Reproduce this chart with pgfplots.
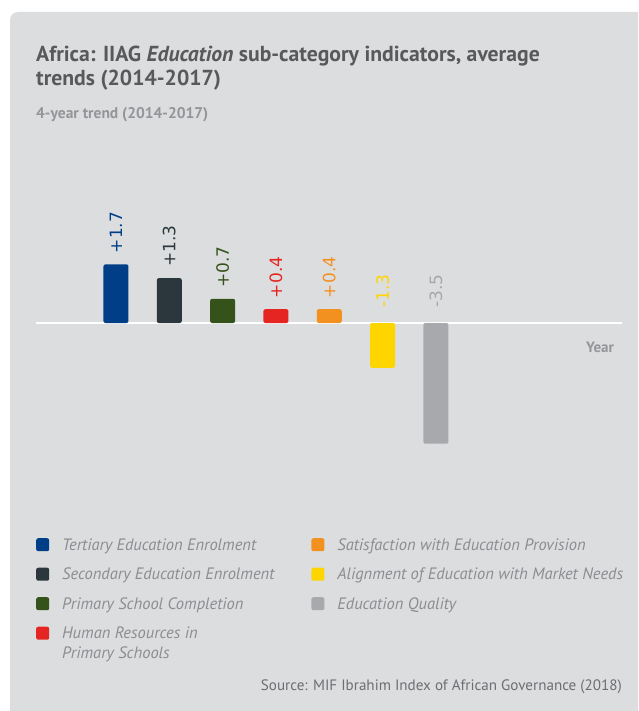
\documentclass[border=0pt]{standalone}
\usepackage{fontspec}
\setmainfont{PT Sans}
\newfontfamily\dejavu{DejaVu Sans}
\usepackage{pgfplots}
\pgfplotsset{compat=1.18}
\definecolor{bg}{HTML}{DCDDDF}
\definecolor{c1}{HTML}{003F87}
\definecolor{c2}{HTML}{2B363D}
\definecolor{c3}{HTML}{35521A}
\definecolor{c4}{HTML}{E52521}
\definecolor{c5}{HTML}{F39120}
\definecolor{c6}{HTML}{FFD500}
\definecolor{c7}{HTML}{A8A9AD}
\definecolor{ttl}{HTML}{58595B}
\definecolor{sub}{HTML}{939598}
\definecolor{leg}{HTML}{8C8D90}
\definecolor{src}{HTML}{6D6E71}
\pgfplotsset{
  bb/.style={fill=#1, draw=none, bar shift=0pt, rounded corners=2pt},
  lab/.style={point meta=explicit symbolic, nodes near coords,
    nodes near coords align={anchor=west},
    every node near coord/.append style={text=#1, rotate=90, anchor=west,
      inner xsep=11pt, inner ysep=0pt, font=\dejavu\fontsize{17}{17}\selectfont}},
}
\begin{document}
\begin{tikzpicture}[x=1pt,y=1pt]
\useasboundingbox (0,0) rectangle (638,711);
\fill[white] (0,0) rectangle (638,711);
\fill[bg] (10,0) -- (10,691) arc[start angle=180,end angle=90,radius=8] -- (638,699) -- (638,0) -- cycle;
\node[anchor=base west, inner sep=0pt, font=\bfseries\fontsize{21.7}{24}\selectfont, text=ttl] at (36,649) {Africa: IIAG \textit{Education} sub-category indicators, average};
\node[anchor=base west, inner sep=0pt, font=\bfseries\fontsize{21.7}{24}\selectfont, text=ttl] at (36,625) {trends (2014-2017)};
\node[anchor=base west, inner sep=0pt, font=\bfseries\fontsize{15.5}{17}\selectfont, text=sub] at (36,592) {4-year trend (2014-2017)};
\node[anchor=base east, inner sep=0pt, font=\fontsize{15.1}{17}\selectfont, text=src] at (622,20.3) {Source: MIF Ibrahim Index of African Governance (2018)};
\node[anchor=base east, inner sep=0pt, font=\bfseries\fontsize{15}{17}\selectfont, text=sub] at (614,358) {Year};
\begin{axis}[at={(36pt,250pt)}, anchor=south west, scale only axis,
  width=586pt, height=241.5pt,
  xmin=-0.5, xmax=10.49, ymin=-4, ymax=3,
  axis line style={draw=none},
  xtick=\empty, ytick=\empty,
  extra y ticks={0}, extra y tick labels={},
  extra y tick style={grid=major, major grid style={white, line width=2.5pt}, major tick length=0pt},
  ybar, bar width=25pt, clip=false,
  legend columns=2,
  legend image code/.code={\fill[#1] (0pt,-1pt) rectangle (13pt,12pt);},
  legend style={at={(0,-0.319)}, anchor=north west, draw=none, fill=none,
    inner sep=0pt, row sep=16pt,
    font=\itshape\fontsize{16.5}{20}\selectfont,
    nodes={inner sep=0pt, text=leg},
    cells={anchor=base west},
    /tikz/every odd column/.append style={column sep=13pt},
    /tikz/every even column/.append style={column sep=37pt}},
]
\addplot[bb=c1, lab=c1] coordinates {(1,1.7) [+1.7]};
\addlegendentry{Tertiary Education Enrolment}
\addplot[bb=c5, lab=c5] coordinates {(5,0.4) [+0.4]};
\addlegendentry{Satisfaction with Education Provision}
\addplot[bb=c2, lab=c2] coordinates {(2,1.3) [+1.3]};
\addlegendentry{Secondary Education Enrolment}
\addplot[bb=c6] coordinates {(6,-1.3)};
\addlegendentry{Alignment of Education with Market Needs}
\addplot[bb=c3, lab=c3] coordinates {(3,0.7) [+0.7]};
\addlegendentry{Primary School Completion}
\addplot[bb=c7] coordinates {(7,-3.5)};
\addlegendentry{Education Quality}
\addplot[bb=c4, lab=c4] coordinates {(4,0.4) [+0.4]};
\addlegendentry{\vtop{\hbox{Human Resources in}\hbox{Primary Schools}}}
\addplot[forget plot, draw=none, fill=none, bar shift=0pt, lab=c6,
  every node near coord/.append style={inner xsep=15pt}] coordinates {(6,0) [-1.3]};
\addplot[forget plot, draw=none, fill=none, bar shift=0pt, lab=c7,
  every node near coord/.append style={inner xsep=15pt}] coordinates {(7,0) [-3.5]};
\end{axis}
\end{tikzpicture}
\end{document}
